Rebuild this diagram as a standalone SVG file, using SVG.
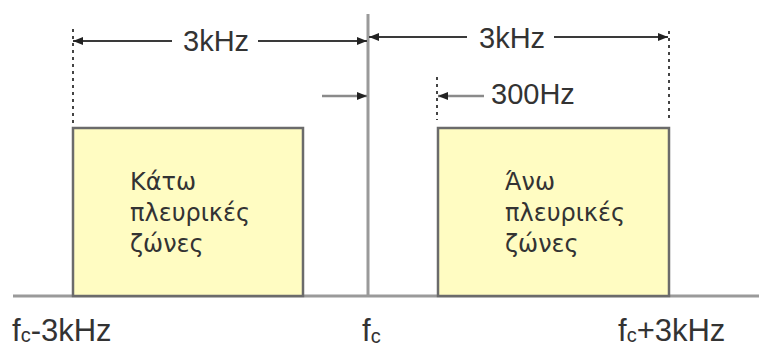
<svg xmlns="http://www.w3.org/2000/svg" width="759" height="349" viewBox="0 0 759 349">
<style>
.axis{stroke:#9a9a9a;stroke-width:3;fill:none}
.box{fill:#fffcc2;stroke:#6b6b6b;stroke-width:2.5}
.dim{stroke:#3a3a3a;stroke-width:2;fill:none;marker-end:url(#ah)}
.dimg{stroke:#8a8a8a;stroke-width:2.5;fill:none;marker-end:url(#ah)}
.dot{stroke:#444;stroke-width:2;stroke-dasharray:3 4;fill:none}
.lbl{font-family:"Liberation Sans",Arial,sans-serif;font-size:29px;fill:#333}
.bl{font-family:"Liberation Sans",Arial,sans-serif;font-size:31px;fill:#333}
.gr{font-family:"DejaVu Sans","Noto Sans",sans-serif;font-size:24px;fill:#333}
</style>
<defs>
<marker id="ah" viewBox="0 0 10 8" refX="10" refY="4" markerWidth="10" markerHeight="8" markerUnits="userSpaceOnUse" orient="auto">
<path d="M0,0 L10,4 L0,8 Z" fill="#222"/>
</marker>
</defs>
<g id="axis">
<line class="axis" x1="13" y1="296" x2="759" y2="296"/>
<line class="axis" x1="368" y1="14" x2="368" y2="296"/>
</g>
<g id="lower-sideband">
<rect class="box" x="73" y="128" width="230" height="168"/>
<text class="gr" x="130" y="190">Κάτω</text>
<text class="gr" x="130" y="221">πλευρικές</text>
<text class="gr" x="130" y="252">ζώνες</text>
</g>
<g id="upper-sideband">
<rect class="box" x="438" y="128" width="231" height="168"/>
<text class="gr" x="505" y="190">Άνω</text>
<text class="gr" x="505" y="221">πλευρικές</text>
<text class="gr" x="505" y="252">ζώνες</text>
</g>
<g id="connectors">
<line class="dot" x1="73" y1="29" x2="73" y2="127"/>
<line class="dot" x1="669" y1="31" x2="669" y2="120"/>
<line class="dot" x1="437" y1="77" x2="437" y2="120"/>
<line class="dim" x1="172" y1="41" x2="73" y2="41"/>
<line class="dim" x1="258" y1="41" x2="367" y2="41"/>
<line class="dim" x1="467" y1="37" x2="369" y2="37"/>
<line class="dim" x1="554" y1="37" x2="668" y2="37"/>
<line class="dimg" x1="322" y1="96" x2="367" y2="96"/>
<line class="dimg" x1="484" y1="96" x2="438" y2="96"/>
</g>
<g id="labels">
<text class="lbl" x="183" y="51">3kHz</text>
<text class="lbl" x="479" y="48">3kHz</text>
<text class="lbl" x="491" y="104">300Hz</text>
<text class="bl" x="12" y="341">f<tspan font-size="20" dy="1">c</tspan><tspan dy="-1">-3kHz</tspan></text>
<text class="bl" x="362" y="341">f<tspan font-size="20" dy="2">c</tspan></text>
<text class="bl" x="618" y="341">f<tspan font-size="20" dy="1">c</tspan><tspan dy="-1">+3kHz</tspan></text>
</g>
</svg>
